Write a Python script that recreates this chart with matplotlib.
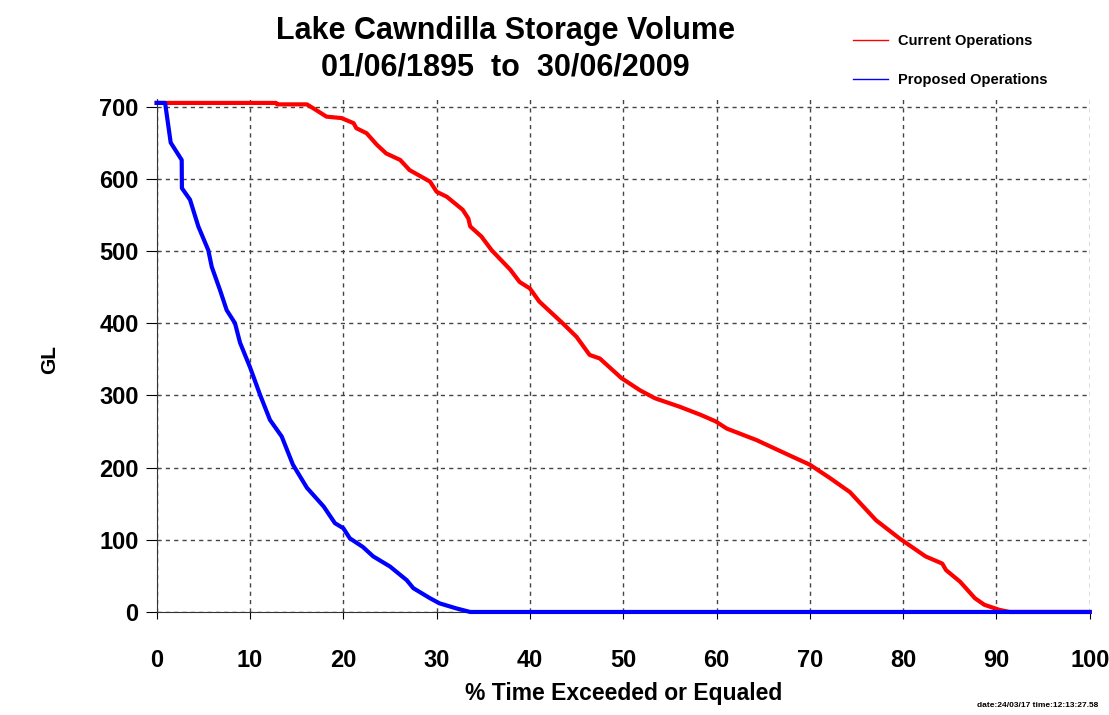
import matplotlib
matplotlib.use("Agg")
import matplotlib.pyplot as plt
from matplotlib.lines import Line2D

plt.rcParams['font.family'] = ['Liberation Sans', 'DejaVu Sans']
plt.rcParams['font.weight'] = 'bold'

# % time exceeded vs storage (GL)
cur_x = [0, 12.8, 12.9, 16.1, 17.1, 18.2, 19.8, 21.1, 21.4, 22.5, 23.6, 24.6, 26.1, 27.1,
         29.3, 30.0, 31.1, 32.8, 33.4, 33.6, 34.8, 35.9, 37.9, 38.9, 40.0, 41.0, 43.5,
         45.0, 46.4, 47.5, 49.8, 51.8, 53.4, 56.1, 58.3, 59.9, 61.1, 64.3, 67.8, 70.0,
         72.1, 74.3, 77.1, 79.6, 82.4, 84.2, 84.6, 86.1, 87.7, 88.7, 90.3, 91.4, 100]
cur_y = [705, 705, 703, 703, 695, 686, 684, 677, 670, 663, 647, 635, 626, 612,
         596, 582, 575, 557, 545, 534, 520, 501, 474, 457, 448, 430, 400,
         381, 356, 351, 324, 307, 296, 284, 273, 264, 254, 238, 217, 204,
         186, 166, 127, 102, 77, 67, 58, 42, 19, 10, 3, 0, 0]

prop_x = [0, 0.9, 1.5, 2.68, 2.7, 3.57, 4.46, 5.53, 5.9, 6.78, 7.5, 8.39, 8.93, 10.0,
          11.07, 12.14, 13.4, 14.6, 16.1, 17.9, 19.1, 20.0, 20.7, 22.1, 23.2, 25.0,
          26.8, 27.5, 29.3, 30.3, 32.1, 33.6, 100]
prop_y = [705, 705, 650, 626, 587, 571, 534, 501, 478, 446, 418, 400, 373, 339,
          301, 266, 243, 204, 172, 146, 123, 116, 102, 90, 77, 63,
          44, 33, 19, 12, 5, 0, 0]

x_ticks = list(range(0, 101, 10))
y_ticks = list(range(0, 701, 100))

fig = plt.figure(figsize=(11.09, 7.15), dpi=100)
ax = fig.add_axes([0.1413, 0.1441, 0.8413, 0.717])

ax.plot(cur_x, cur_y, color='#ff0000', lw=3, clip_on=False, zorder=3)
ax.plot(prop_x, prop_y, color='#0000ff', lw=3, clip_on=False, zorder=4)

ax.set_xlim(0, 100)
ax.set_ylim(0, 710)
ax.set_xticks(x_ticks)
ax.set_yticks(y_ticks)
ax.grid(True, color='#444444', linestyle=(0, (3, 3)), lw=1)
for s in ['top', 'right']:
    ax.spines[s].set_visible(False)
ax.spines['left'].set_color('#333333')
ax.spines['bottom'].set_color('#333333')
ax.tick_params(axis='x', length=5, pad=22, labelsize=17)
ax.tick_params(axis='y', length=8, pad=5, labelsize=17)

ax.set_xlabel('% Time Exceeded or Equaled', fontsize=16.5, fontweight='bold', labelpad=7)
fig.text(0.045, 0.497, 'GL', rotation=90, fontsize=15, fontweight='bold', ha='center', va='center')

fig.text(0.456, 0.956, 'Lake Cawndilla Storage Volume', fontsize=22, fontweight='bold',
         ha='center', va='center')
fig.text(0.456, 0.906, '01/06/1895  to  30/06/2009', fontsize=22, fontweight='bold',
         ha='center', va='center')

handles = [Line2D([], [], color='#ff0000', lw=1), Line2D([], [], color='#0000ff', lw=1)]
fig.legend(handles, ['Current Operations', 'Proposed Operations'], loc='upper left',
           bbox_to_anchor=(0.757, 0.971), frameon=False,
           handlelength=2.4, handletextpad=0.7, labelspacing=1.7,
           prop={'weight': 'bold', 'size': 10.5})

fig.text(0.99, 0.008, 'date:24/03/17 time:12:13:27.58', fontsize=6, fontweight='bold',
         ha='right', va='bottom')

fig.savefig('out.png', dpi=100)
